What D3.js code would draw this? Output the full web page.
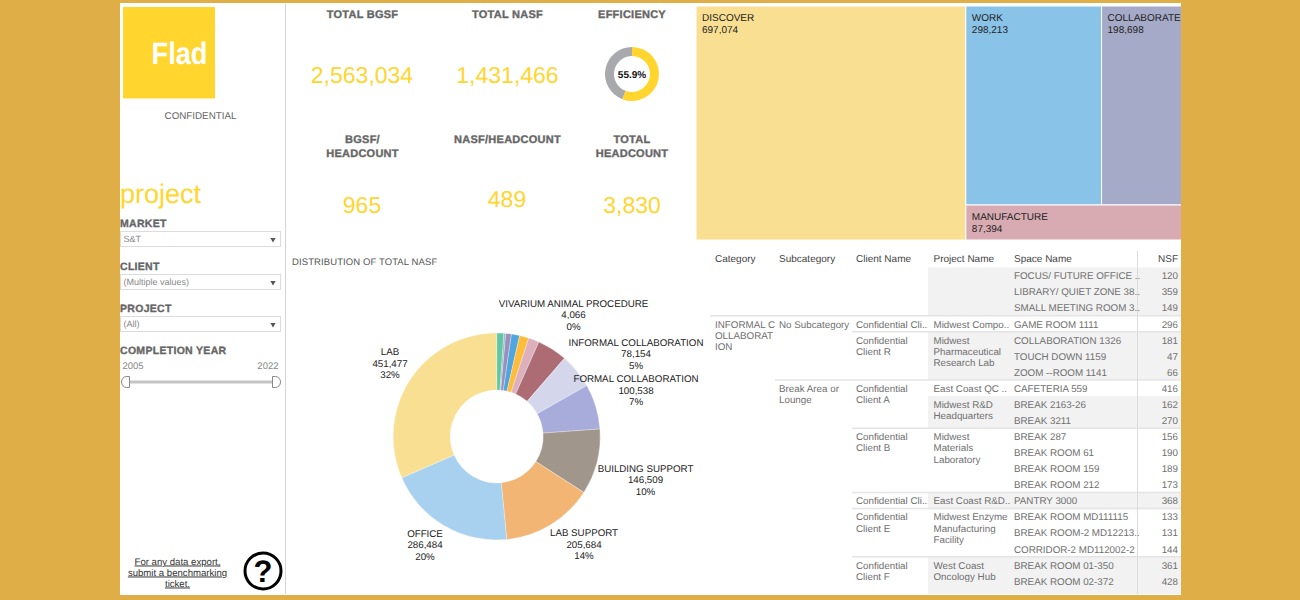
<!DOCTYPE html>
<html>
<head>
<meta charset="utf-8">
<script src="https://d3js.org/d3.v7.min.js"></script>
<style>
  html, body { margin: 0; padding: 0; background: #DFAE46; overflow: hidden; }
  svg { display: block; font-family: "Liberation Sans", Arial, sans-serif; text-rendering: geometricPrecision; }
</style>
</head>
<body>
<div id="chart"></div>
<script>
// pie, clockwise from 12 o'clock
var pieNames = ["a", "VIVARIUM ANIMAL PROCEDURE", "b", "c", "d", "e", "f", "INFORMAL COLLABORATION", "FORMAL COLLABORATION", "BUILDING SUPPORT", "LAB SUPPORT", "OFFICE", "LAB"];
var pieValues = [15900, 4066, 12700, 18300, 20700, 23900, 67054, 78154, 100538, 146509, 205684, 286484, 451477];
var pieColors = ["#5FC7A5", "#8FB8B8", "#9A90BE", "#4FA6DC", "#FDBC3C", "#DCB0BC", "#AD6B74", "#D4D6EC", "#A8ACDB", "#A1968C", "#F2B574", "#A8D0EF", "#F9DF92"];
var pieLabelNames = ["VIVARIUM ANIMAL PROCEDURE", "INFORMAL COLLABORATION", "FORMAL COLLABORATION", "BUILDING SUPPORT", "LAB SUPPORT", "OFFICE", "LAB"];
var pieLabelValues = ["4,066", "78,154", "100,538", "146,509", "205,684", "286,484", "451,477"];
var pieLabelPcts = ["0%", "5%", "7%", "10%", "14%", "20%", "32%"];
var pieLabelX = [573.5, 636, 636, 645.5, 584, 425, 390];
var pieLabelY = [306.5, 345.5, 382, 471.5, 536, 536.5, 355];

// treemap
var treeNames = ["DISCOVER", "WORK", "COLLABORATE", "MANUFACTURE"];
var treeValues = [697074, 298213, 198698, 87394];
var treeColors = ["#F9DF92", "#8AC3E8", "#A5AAC8", "#D8ABB2"];

// kpis
var kpiTitles = [["TOTAL BGSF"], ["TOTAL NASF"], ["EFFICIENCY"], ["BGSF/", "HEADCOUNT"], ["NASF/HEADCOUNT"], ["TOTAL", "HEADCOUNT"]];
var kpiTitleX = [362.5, 507.5, 632, 362.5, 507.5, 632];
var kpiTitleY = [18, 18, 18, 143, 142.5, 143];
var kpiValues = ["2,563,034", "1,431,466", null, "965", "489", "3,830"];
var kpiValueX = [362, 507.5, 632, 362, 507, 632];
var kpiValueY = [82.5, 82.5, 82.5, 213, 207, 213];
var efficiency = [55.9, 44.1];

// filters
var filterNames = ["MARKET", "CLIENT", "PROJECT"];
var filterValues = ["S&T", "(Multiple values)", "(All)"];
var filterY = [227, 270, 312];

// table
var tableHeaders = ["Category", "Subcategory", "Client Name", "Project Name", "Space Name", "NSF"];
var spaceNames = ["FOCUS/ FUTURE OFFICE ..", "LIBRARY/ QUIET ZONE 38..", "SMALL MEETING ROOM 3..", "GAME ROOM 1111", "COLLABORATION 1326", "TOUCH DOWN 1159", "ZOOM --ROOM 1141", "CAFETERIA 559", "BREAK 2163-26", "BREAK 3211", "BREAK 287", "BREAK ROOM 61", "BREAK ROOM 159", "BREAK ROOM 212", "PANTRY 3000", "BREAK ROOM MD111115", "BREAK ROOM-2 MD12213..", "CORRIDOR-2 MD112002-2", "BREAK ROOM 01-350", "BREAK ROOM 02-372", "BREAK ROOM 04-378"];
var spaceNsf = [120, 359, 149, 296, 181, 47, 66, 416, 162, 270, 156, 190, 189, 173, 368, 133, 131, 144, 361, 428, 391];
var categoryRows = [{ row: 3, lines: ["INFORMAL C", "OLLABORAT", "ION"] }];
var subcategoryRows = [{ row: 3, lines: ["No Subcategory"] }, { row: 7, lines: ["Break Area or", "Lounge"] }];
var clientRows = [
  { row: 3, lines: ["Confidential Cli.."] }, { row: 4, lines: ["Confidential", "Client R"] },
  { row: 7, lines: ["Confidential", "Client A"] }, { row: 10, lines: ["Confidential", "Client B"] },
  { row: 14, lines: ["Confidential Cli.."] }, { row: 15, lines: ["Confidential", "Client E"] },
  { row: 18, lines: ["Confidential", "Client F"] }
];
var projectRows = [
  { row: 3, lines: ["Midwest Compo.."] }, { row: 4, lines: ["Midwest", "Pharmaceutical", "Research Lab"] },
  { row: 7, lines: ["East Coast QC .."] }, { row: 8, lines: ["Midwest R&D", "Headquarters"] },
  { row: 10, lines: ["Midwest", "Materials", "Laboratory"] }, { row: 14, lines: ["East Coast R&D.."] },
  { row: 15, lines: ["Midwest Enzyme", "Manufacturing", "Facility"] }, { row: 18, lines: ["West Coast", "Oncology Hub"] }
];
// project bands: [first row, row count]
var shadedStart = [0, 4, 8, 14, 18];
var shadedCount = [3, 3, 2, 1, 3];
var ruleRows = [3, 4, 7, 10, 14, 15, 18];
var ruleStartX = [710, 852, 775, 852, 852, 852, 852];

var titleColor = "#666666", bodyColor = "#707070", yellow = "#FFD52E";

var svg = d3.select("#chart").append("svg").attr("width", 1300).attr("height", 600);
var defs = svg.append("defs");

svg.append("rect").attr("width", 1300).attr("height", 600).attr("fill", "#DFAE46");
svg.append("rect").attr("x", 120).attr("y", 3).attr("width", 1061).attr("height", 592).attr("fill", "#fff");
svg.append("line").attr("x1", 285.5).attr("x2", 285.5).attr("y1", 4).attr("y2", 594).attr("stroke", "#d4d4d4").attr("stroke-width", 1);

// left column
svg.append("rect").attr("x", 123).attr("y", 7).attr("width", 92).attr("height", 91.5).attr("fill", yellow);
svg.append("text").attr("x", 207.5).attr("y", 63.5).attr("text-anchor", "end").attr("font-size", 31).attr("font-weight", "bold")
  .attr("textLength", 56).attr("lengthAdjust", "spacingAndGlyphs").attr("fill", "#fff").text("Flad");
svg.append("text").attr("x", 200.5).attr("y", 119).attr("text-anchor", "middle").attr("font-size", 9.8).attr("fill", "#666").text("CONFIDENTIAL");
svg.append("text").attr("x", 120).attr("y", 203).attr("font-size", 27).attr("fill", yellow).text("project");

function heavy(sel) {
  return sel.attr("font-weight", "bold").attr("fill", titleColor).attr("stroke", titleColor).attr("stroke-width", 0.35);
}

filterNames.forEach(function(name, i) {
  var y = filterY[i];
  heavy(svg.append("text").attr("x", 120).attr("y", y).attr("font-size", 10.5).attr("letter-spacing", 0.3)).text(name);
  svg.append("rect").attr("x", 120.5).attr("y", y + 4.5).attr("width", 160).attr("height", 15).attr("fill", "#fff").attr("stroke", "#dcdcdc");
  svg.append("text").attr("x", 123.5).attr("y", y + 15).attr("font-size", 9).attr("fill", "#888").text(filterValues[i]);
  svg.append("path").attr("d", d3.symbol().type(d3.symbolTriangle).size(12)).attr("transform", "translate(273," + (y + 12.5) + ") rotate(180)").attr("fill", "#555");
});

heavy(svg.append("text").attr("x", 120).attr("y", 354).attr("font-size", 10.5).attr("letter-spacing", 0.3)).text("COMPLETION YEAR");
svg.append("text").attr("x", 122.5).attr("y", 369).attr("font-size", 9.5).attr("fill", "#888").text("2005");
svg.append("text").attr("x", 278.5).attr("y", 369).attr("text-anchor", "end").attr("font-size", 9.5).attr("fill", "#888").text("2022");
svg.append("line").attr("x1", 128).attr("x2", 274).attr("y1", 382).attr("y2", 382).attr("stroke", "#c4c4c4").attr("stroke-width", 3);
svg.append("path").attr("d", "M129.5,376.5 h-3 a5,5.5 0 0 0 0,11 h3 z").attr("fill", "#fff").attr("stroke", "#888");
svg.append("path").attr("d", "M272.5,376.5 h3 a5,5.5 0 0 1 0,11 h-3 z").attr("fill", "#fff").attr("stroke", "#888");

var helpLines = ["For any data export,", "submit a benchmarking", "ticket."];
svg.selectAll(".help").data(helpLines).enter().append("text").attr("class", "help")
  .attr("x", 177.5).attr("y", function(d, i) { return 564.5 + i * 11; })
  .attr("text-anchor", "middle").attr("font-size", 9.6).attr("fill", "#333").attr("text-decoration", "underline").text(function(d) { return d; });
svg.append("circle").attr("cx", 263).attr("cy", 571).attr("r", 18).attr("fill", "#fff").attr("stroke", "#000").attr("stroke-width", 3);
svg.append("text").attr("x", 263).attr("y", 582).attr("text-anchor", "middle").attr("font-size", 31).attr("font-weight", "bold").attr("fill", "#000").text("?");

// kpi blocks
kpiTitles.forEach(function(lines, i) {
  lines.forEach(function(line, j) {
    heavy(svg.append("text").attr("x", kpiTitleX[i]).attr("y", kpiTitleY[i] + j * 13.5).attr("text-anchor", "middle")
      .attr("font-size", 11).attr("letter-spacing", 0.25)).text(line);
  });
  if (kpiValues[i]) {
    svg.append("text").attr("x", kpiValueX[i]).attr("y", kpiValueY[i]).attr("text-anchor", "middle")
      .attr("font-size", 23).attr("fill", yellow).text(kpiValues[i]);
  }
});

// efficiency ring
var ring = svg.append("g").attr("transform", "translate(632,74)");
ring.selectAll("path").data(d3.pie().sort(null)(efficiency)).enter().append("path")
  .attr("d", d3.arc().innerRadius(18).outerRadius(27))
  .attr("fill", function(d, i) { return i == 0 ? yellow : "#A7A9AC"; });
ring.append("text").attr("y", 4).attr("text-anchor", "middle").attr("font-size", 10).attr("font-weight", "bold").attr("fill", "#111").text("55.9%");

// treemap, cropped on the right by the dashboard edge
defs.append("clipPath").attr("id", "treeClip").append("rect").attr("x", 696).attr("y", 6).attr("width", 485).attr("height", 234);
var treeRoot = d3.hierarchy({ children: [
  { i: 0 },
  { children: [{ children: [{ i: 1 }, { i: 2 }] }, { i: 3 }] }
] }).sum(function(d) { return d.i === undefined ? 0 : treeValues[d.i]; });
d3.treemap().tile(d3.treemapSliceDice).size([496, 234]).paddingInner(0)(treeRoot);

var cells = svg.append("g").attr("clip-path", "url(#treeClip)").append("g").attr("transform", "translate(696,6)")
  .selectAll("g").data(treeRoot.leaves()).enter().append("g")
  .attr("transform", function(d) { return "translate(" + d.x0 + "," + d.y0 + ")"; });
cells.append("rect")
  .attr("width", function(d) { return d.x1 - d.x0; })
  .attr("height", function(d) { return d.y1 - d.y0; })
  .attr("fill", function(d) { return treeColors[d.data.i]; })
  .attr("stroke", "#fff").attr("stroke-width", 1);
cells.append("text").attr("x", 6).attr("y", 15).attr("font-size", 10).attr("fill", "#222").text(function(d) { return treeNames[d.data.i]; });
cells.append("text").attr("x", 6).attr("y", 26.5).attr("font-size", 10).attr("fill", "#222").text(function(d) { return d3.format(",")(treeValues[d.data.i]); });

// donut
svg.append("text").attr("x", 292).attr("y", 265).attr("font-size", 9.5).attr("letter-spacing", 0.1).attr("fill", "#555").text("DISTRIBUTION OF TOTAL NASF");
var donut = svg.append("g").attr("transform", "translate(496.7,436.5)");
donut.selectAll("path").data(d3.pie().sort(null)(pieValues)).enter().append("path")
  .attr("d", d3.arc().innerRadius(46.5).outerRadius(103.5))
  .attr("fill", function(d, i) { return pieColors[i]; })
  .attr("stroke", "#fff").attr("stroke-width", 0.3);

pieLabelNames.forEach(function(name, i) {
  [name, pieLabelValues[i], pieLabelPcts[i]].forEach(function(line, j) {
    svg.append("text").attr("x", pieLabelX[i]).attr("y", pieLabelY[i] + j * 11.5).attr("text-anchor", "middle")
      .attr("font-size", 9.75).attr("fill", "#222").text(line);
  });
});

// table
var rowY = d3.scaleLinear().domain([0, 21]).range([267.5, 605]);
var table = svg.append("g");
defs.append("clipPath").attr("id", "tableClip").append("rect").attr("x", 700).attr("y", 245).attr("width", 481).attr("height", 349);

var body = table.append("g").attr("clip-path", "url(#tableClip)");
shadedStart.forEach(function(s, i) {
  body.append("rect").attr("x", 928).attr("y", rowY(s)).attr("width", 253).attr("height", rowY(s + shadedCount[i]) - rowY(s)).attr("fill", "#f2f2f2");
});
ruleRows.forEach(function(r, i) {
  body.append("line").attr("x1", ruleStartX[i]).attr("x2", 1181).attr("y1", rowY(r)).attr("y2", rowY(r)).attr("stroke", "#e4e4e4").attr("stroke-width", 1.5);
});
body.append("line").attr("x1", 1137.5).attr("x2", 1137.5).attr("y1", 251).attr("y2", 594).attr("stroke", "#dcdcdc");

body.selectAll(".space").data(spaceNames).enter().append("text").attr("class", "space")
  .attr("x", 1014).attr("y", function(d, i) { return rowY(i) + 11.8; })
  .attr("font-size", 9.8).attr("fill", bodyColor).text(function(d) { return d; });
body.selectAll(".nsf").data(spaceNsf).enter().append("text").attr("class", "nsf")
  .attr("x", 1178).attr("y", function(d, i) { return rowY(i) + 11.8; }).attr("text-anchor", "end")
  .attr("font-size", 9.8).attr("fill", bodyColor).text(function(d) { return d; });

function mergedColumn(rows, x) {
  rows.forEach(function(r) {
    r.lines.forEach(function(line, j) {
      body.append("text").attr("x", x).attr("y", rowY(r.row) + 11.8 + j * 11.3).attr("font-size", 9.8).attr("fill", bodyColor).text(line);
    });
  });
}
mergedColumn(categoryRows, 715);
mergedColumn(subcategoryRows, 779);
mergedColumn(clientRows, 856);
mergedColumn(projectRows, 933.5);

var headerX = [715, 779, 856, 933.5, 1014, 1178];
tableHeaders.forEach(function(h, i) {
  table.append("text").attr("x", headerX[i]).attr("y", 262).attr("text-anchor", i == 5 ? "end" : "start")
    .attr("font-size", 10).attr("fill", "#444").text(h);
});
</script>
</body>
</html>
